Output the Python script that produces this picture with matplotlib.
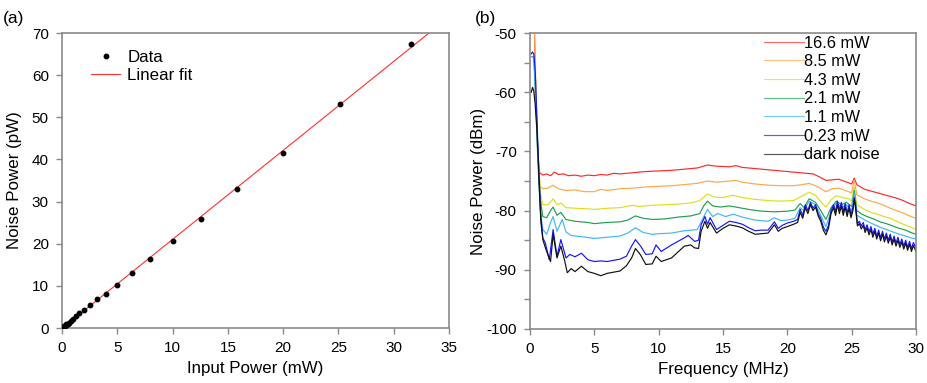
import numpy as np
import matplotlib
matplotlib.use("Agg")
import matplotlib.pyplot as plt

plt.rcParams['font.family'] = ['Liberation Sans', 'DejaVu Sans']
plt.rcParams['axes.unicode_minus'] = False

# ---------------- Panel (a) data ----------------
input_power_mW = [0.1, 0.126, 0.16, 0.2, 0.25, 0.32, 0.4, 0.5, 0.63, 0.79, 1.0, 1.26,
                  1.58, 2.0, 2.51, 3.16, 3.98, 5.01, 6.31, 7.94, 10.0, 12.6, 15.85,
                  19.95, 25.1, 31.6]
noise_power_pW = [0.21, 0.27, 0.34, 0.42, 0.52, 0.67, 0.84, 1.05, 1.3, 1.65, 2.1, 2.8,
                  3.5, 4.35, 5.4, 6.8, 8.05, 10.2, 13.05, 16.3, 20.6, 25.9, 33.0,
                  41.45, 53.2, 67.5]

# ---------------- Panel (b) data ----------------
labels_b = ['16.6 mW', '8.5 mW', '4.3 mW', '2.1 mW', '1.1 mW', '0.23 mW', 'dark noise']
colors_b = ['#ff2828', '#ffa848', '#dede20', '#20a050', '#40b8f0', '#1414ff', '#101010']

f_red = [0.15, 0.3, 0.45, 0.6, 0.75, 1.0, 1.3, 1.6, 1.9, 2.2, 2.6, 3.0, 3.5, 4.0, 4.5, 5.0, 5.5,
         6.0, 6.5, 7.0, 8.0, 9.0, 10.0, 11.0, 12.0, 13.0, 13.8, 14.5, 15.5, 16.0, 16.5, 17.5,
         18.5, 19.5, 20.5, 21.5, 22.0, 22.5, 23.0, 23.5, 24.0, 24.5, 25.0, 25.2, 25.4, 26.0,
         26.5, 27.0, 27.5, 28.0, 28.5, 29.0, 29.5, 30.0]
p_red = [-45, -45, -60, -70, -73.6, -74.0, -73.8, -74.1, -73.5, -73.9, -73.8, -74.1, -74.0,
         -74.2, -74.0, -74.1, -73.9, -74.0, -73.7, -73.8, -73.6, -73.4, -73.3, -73.2, -73.0,
         -72.8, -72.3, -72.5, -72.6, -72.4, -72.7, -72.9, -73.1, -73.3, -73.5, -73.7, -73.8,
         -74.3, -74.9, -74.8, -74.7, -75.1, -75.5, -74.5, -75.6, -76.4, -76.7, -77.0, -77.3,
         -77.6, -77.9, -78.3, -78.8, -79.2]

f_orange = [0.15, 0.3, 0.45, 0.6, 0.8, 1.0, 1.4, 1.8, 2.2, 2.8, 3.5, 4.2, 5.0, 5.5, 6.0, 7.0,
            8.0, 9.0, 10.0, 11.0, 12.0, 13.0, 13.8, 14.5, 15.5, 16.0, 16.5, 17.5, 18.5, 19.5,
            20.5, 21.2, 21.7, 22.3, 23.0, 23.5, 24.0, 24.5, 25.0, 25.2, 25.4, 26.0, 26.5,
            27.0, 27.5, 28.0, 28.5, 29.0, 29.5, 30.0]
p_orange = [-45, -45, -58, -70, -76.0, -76.3, -76.2, -75.7, -76.3, -76.6, -76.5, -76.8,
            -76.8, -76.4, -76.6, -76.3, -76.2, -76.0, -75.9, -75.8, -75.6, -75.4, -75.0,
            -75.2, -75.0, -74.9, -75.2, -75.5, -75.7, -75.8, -75.8, -75.6, -75.4, -75.9,
            -76.8, -76.3, -76.2, -76.6, -77.0, -74.8, -77.3, -78.0, -78.4, -78.7, -79.1,
            -79.6, -80.0, -80.4, -80.9, -81.3]

f_yellow = [0.15, 0.3, 0.45, 0.6, 0.8, 1.0, 1.4, 1.8, 2.1, 2.4, 2.8, 3.5, 4.5, 5.0, 6.0,
            7.0, 8.0, 8.5, 9.5, 10.5, 11.5, 12.5, 13.2, 13.8, 14.3, 15.0, 15.8, 16.5, 17.5,
            18.5, 19.5, 20.5, 21.0, 21.7, 22.2, 22.6, 23.0, 23.4, 23.8, 24.3, 24.8, 25.0,
            25.2, 25.4, 26.0, 26.5, 27.0, 27.5, 28.0, 28.5, 29.0, 29.5, 30.0]
p_yellow = [-54, -54, -60, -70, -77, -79.0, -79.0, -78.0, -79.0, -78.7, -79.5, -79.6,
            -79.7, -79.8, -79.6, -79.5, -79.1, -79.3, -79.1, -79.0, -78.9, -78.7, -78.3,
            -77.2, -77.7, -77.8, -77.4, -77.8, -78.1, -78.3, -78.4, -78.3, -77.7, -76.9,
            -77.4, -78.5, -79.4, -78.2, -77.5, -77.8, -78.0, -78.4, -76.0, -79.0, -79.8,
            -80.3, -80.6, -81.0, -81.3, -81.8, -82.3, -82.7, -83.2]

f_green = [0.15, 0.3, 0.45, 0.6, 0.8, 1.0, 1.3, 1.6, 1.8, 2.1, 2.4, 2.8, 3.5, 4.5, 5.0,
           6.0, 7.0, 7.6, 8.2, 8.8, 9.5, 10.5, 11.5, 12.5, 13.2, 13.5, 13.8, 14.2, 14.8,
           15.5, 16.0, 17.0, 18.0, 19.0, 20.0, 20.6, 21.0, 21.3, 21.7, 22.2, 22.6, 23.0,
           23.4, 23.8, 24.2, 24.6, 25.0, 25.2, 25.4, 25.8, 26.2, 26.7, 27.2, 27.7, 28.2,
           28.7, 29.2, 29.6, 30.0]
p_green = [-54, -54, -61, -70, -78, -81.0, -81.2, -80.0, -79.4, -80.8, -80.3, -81.5,
           -81.8, -82.0, -82.2, -82.0, -81.9, -81.6, -80.9, -81.3, -81.5, -81.4, -81.1,
           -80.9, -80.5, -79.2, -78.4, -79.2, -79.4, -79.2, -79.4, -79.8, -80.1, -80.2,
           -80.1, -79.9, -78.8, -79.5, -78.0, -78.6, -80.0, -81.5, -79.5, -78.4, -79.0,
           -78.6, -79.3, -76.6, -80.0, -80.6, -81.0, -81.4, -81.9, -82.2, -82.6, -83.0,
           -83.3, -83.7, -84.0]

f_lblue = [0.15, 0.3, 0.45, 0.6, 0.8, 1.0, 1.3, 1.6, 1.8, 2.1, 2.5, 2.8, 3.2, 4.0, 5.0,
           6.0, 7.0, 7.6, 8.2, 8.8, 9.5, 10.0, 11.0, 12.0, 12.6, 13.0, 13.4, 13.8, 14.2,
           14.6, 15.2, 15.8, 16.5, 17.5, 18.5, 19.0, 19.5, 20.0, 20.6, 21.0, 21.3, 21.7,
           22.2, 22.6, 23.0, 23.4, 23.8, 24.2, 24.6, 25.0, 25.2, 25.4, 25.8, 26.2, 26.7,
           27.2, 27.7, 28.2, 28.7, 29.2, 29.6, 30.0]
p_lblue = [-54, -54, -62, -71, -80, -83.2, -84.0, -82.0, -81.0, -83.5, -81.5, -83.6,
           -84.2, -84.4, -84.7, -84.5, -84.3, -83.8, -82.9, -83.7, -84.0, -83.9, -83.8,
           -83.4, -83.3, -83.2, -81.5, -79.8, -81.0, -80.5, -81.0, -80.6, -81.1, -81.6,
           -81.8, -81.2, -81.7, -81.6, -81.3, -79.5, -80.0, -78.4, -79.0, -80.8, -82.7,
           -80.2, -78.7, -79.5, -79.0, -80.0, -77.0, -80.8, -81.3, -81.8, -82.3, -82.8,
           -83.2, -83.6, -84.0, -84.3, -84.6, -84.8]

f_blue = [0.1, 0.2, 0.3, 0.4, 0.5, 0.6, 0.7, 0.85, 1.0, 1.2, 1.5, 1.8, 2.1, 2.4, 2.8, 3.1,
          3.5, 4.0, 4.5, 5.0, 5.5, 6.0, 7.0, 7.5, 7.9, 8.2, 8.6, 9.0, 9.5, 9.8, 10.2, 11.0,
          11.5, 12.0, 12.3, 12.8, 13.1, 13.3, 13.6, 13.8, 14.0, 14.5, 15.0, 15.5, 16.0,
          16.5, 17.0, 17.5, 18.0, 18.5, 19.0, 19.3, 19.6, 20.0, 20.5, 20.8, 21.0, 21.2,
          21.4, 21.6, 21.8, 22.0, 22.2, 22.4, 22.6, 22.8, 23.0, 23.2, 23.4, 23.6, 23.75,
          23.9, 24.05, 24.2, 24.35, 24.5, 24.65, 24.8, 24.95, 25.1, 25.2, 25.3, 25.45,
          25.6, 25.75, 25.9, 26.05, 26.2, 26.35, 26.5, 26.65, 26.8, 26.95, 27.1, 27.25,
          27.4, 27.55, 27.7, 27.85, 28.0, 28.15, 28.3, 28.45, 28.6, 28.75, 28.9, 29.05,
          29.2, 29.35, 29.5, 29.65, 29.8, 30.0]
p_blue = [-53.5, -53.2, -53.6, -56, -62, -68, -74, -81, -84.6, -85.5, -88.3, -83.2, -87.7,
          -84.9, -88.0, -87.4, -87.8, -87.2, -88.3, -88.6, -88.5, -88.6, -88.2, -87.7,
          -86.0, -84.9, -86.0, -87.4, -87.3, -85.8, -86.9, -85.8, -85.2, -84.6, -84.2,
          -85.2, -85.0, -82.4, -81.0, -82.3, -81.2, -83.2, -82.5, -81.8, -82.0, -82.3,
          -82.9, -83.4, -83.3, -83.3, -81.9, -83.0, -82.5, -82.1, -81.8, -81.5, -79.8,
          -80.8, -79.0, -80.0, -78.6, -79.6, -79.0, -80.5, -81.3, -82.8, -83.5, -82.5,
          -80.0, -79.0, -80.2, -78.4, -79.9, -78.6, -80.2, -78.8, -80.4, -79.0, -80.7,
          -79.5, -77.8, -79.0, -82.2, -81.8, -82.6, -82.0, -83.2, -82.4, -83.6, -82.7,
          -84.0, -83.0, -84.3, -83.3, -84.6, -83.5, -84.8, -83.8, -85.0, -84.0, -85.3,
          -84.3, -85.5, -84.5, -85.7, -84.8, -86.0, -85.0, -86.2, -85.2, -86.4, -85.4,
          -86.3]

f_dark = [0.1, 0.2, 0.3, 0.4, 0.5, 0.6, 0.7, 0.85, 1.0, 1.2, 1.4, 1.6, 1.8, 2.1, 2.4, 2.7,
          2.9, 3.2, 3.5, 4.0, 4.5, 5.0, 5.5, 6.0, 6.5, 7.0, 7.5, 7.9, 8.2, 8.6, 9.0, 9.5,
          9.8, 10.2, 11.0, 11.5, 12.0, 12.5, 12.8, 13.1, 13.3, 13.6, 13.8, 14.0, 14.5,
          15.0, 15.5, 16.0, 16.5, 17.0, 17.5, 18.0, 18.5, 19.0, 19.3, 19.6, 20.0, 20.5,
          20.8, 21.0, 21.2, 21.4, 21.6, 21.8, 22.0, 22.2, 22.4, 22.6, 22.8, 23.0, 23.2,
          23.4, 23.6, 23.75, 23.9, 24.05, 24.2, 24.35, 24.5, 24.65, 24.8, 24.95, 25.1,
          25.2, 25.3, 25.45, 25.6, 25.75, 25.9, 26.05, 26.2, 26.35, 26.5, 26.65, 26.8,
          26.95, 27.1, 27.25, 27.4, 27.55, 27.7, 27.85, 28.0, 28.15, 28.3, 28.45, 28.6,
          28.75, 28.9, 29.05, 29.2, 29.35, 29.5, 29.65, 29.8, 30.0]
p_dark = [-60.0, -59.2, -59.8, -62, -65, -69, -75, -82, -84.9, -86.3, -87.5, -88.6, -84.0,
          -88.0, -86.0, -88.5, -90.5, -89.8, -90.3, -89.4, -90.3, -90.6, -91.0, -90.6,
          -90.4, -90.2, -89.3, -88.0, -86.4, -87.5, -89.1, -89.0, -87.7, -88.6, -88.0,
          -87.0, -86.0, -85.8, -86.3, -86.4, -83.5, -81.8, -83.0, -82.0, -83.8, -83.0,
          -82.4, -82.6, -82.9, -83.5, -84.0, -83.9, -83.8, -82.4, -83.5, -83.0, -82.7,
          -82.3, -82.0, -80.3, -81.3, -79.5, -80.5, -79.0, -80.0, -79.4, -80.9, -81.8,
          -83.3, -84.1, -83.0, -80.5, -79.5, -80.8, -79.0, -80.5, -79.2, -80.8, -79.4,
          -81.0, -79.6, -81.2, -80.0, -78.1, -79.5, -82.6, -82.2, -83.1, -82.5, -83.7,
          -82.9, -84.1, -83.2, -84.5, -83.5, -84.8, -83.8, -85.1, -84.0, -85.3, -84.3,
          -85.5, -84.5, -85.8, -84.8, -86.0, -85.0, -86.2, -85.3, -86.5, -85.5, -86.7,
          -85.7, -86.9, -85.9, -86.9]

freqs_b = [f_red, f_orange, f_yellow, f_green, f_lblue, f_blue, f_dark]
powers_b = [p_red, p_orange, p_yellow, p_green, p_lblue, p_blue, p_dark]

# ---------------- Figure ----------------
fig = plt.figure(figsize=(9.27, 3.83), dpi=100)
spine_col = '#8a8a8a'
FS = 11
LFS = 12.2

def style(ax):
    for s in ax.spines.values():
        s.set_color(spine_col)
        s.set_linewidth(1.2)
    ax.tick_params(axis='both', which='both', direction='out', color=spine_col,
                   labelsize=FS, length=4.5, width=1.0, pad=5, top=False, right=False)
    ax.tick_params(axis='both', which='minor', length=4.5)

# Panel (a)
axa = fig.add_axes([0.0669, 0.1436, 0.4175, 0.7702])
x_arr = np.array(input_power_mW)
y_arr = np.array(noise_power_pW)
slope, intercept = np.polyfit(x_arr, y_arr, 1)
xfit = np.array([0.0, 35.0])
axa.plot(x_arr, y_arr, 'o', color='black', markersize=3.2, label='Data', zorder=3)
axa.plot(xfit, slope * xfit + intercept, '-', color='#ff3030', lw=0.8, label='Linear fit', zorder=2)
axa.set_xlim(0, 35)
axa.set_ylim(0, 70)
axa.set_xticks(range(0, 36, 5))
axa.set_yticks(range(0, 71, 10))
axa.set_xlabel('Input Power (mW)', fontsize=LFS, labelpad=4)
axa.set_ylabel('Noise Power (pW)', fontsize=LFS, labelpad=7)
style(axa)
axa.legend(loc='upper left', bbox_to_anchor=(0.035, 0.995), frameon=False, fontsize=LFS,
           handlelength=1.75, handletextpad=0.4, labelspacing=0.2, markerscale=1.0)
fig.text(0.003, 0.97, '(a)', fontsize=12.5, va='top', ha='left')

# Panel (b)
axb = fig.add_axes([0.5717, 0.1410, 0.4164, 0.7728])
for f, p, c, lab in zip(freqs_b, powers_b, colors_b, labels_b):
    axb.plot(f, p, '-', color=c, lw=0.85, label=lab)
axb.set_xlim(0, 30)
axb.set_ylim(-100, -50)
axb.set_xticks(range(0, 31, 5))
axb.set_yticks(range(-100, -49, 10))
axb.set_yticks(range(-95, -50, 10), minor=True)
axb.set_xlabel('Frequency (MHz)', fontsize=LFS, labelpad=4)
axb.set_ylabel('Noise Power (dBm)', fontsize=LFS, labelpad=0)
style(axb)
leg = axb.legend(loc='upper right', bbox_to_anchor=(0.935, 1.03), frameon=False, fontsize=11.8,
                 handlelength=2.45, handletextpad=0.0, labelspacing=0.22, borderaxespad=0.3)
for h in leg.get_lines():
    h.set_alpha(0.7)
fig.text(0.512, 0.97, '(b)', fontsize=12.5, va='top', ha='left')

fig.savefig('out.png', dpi=100)
